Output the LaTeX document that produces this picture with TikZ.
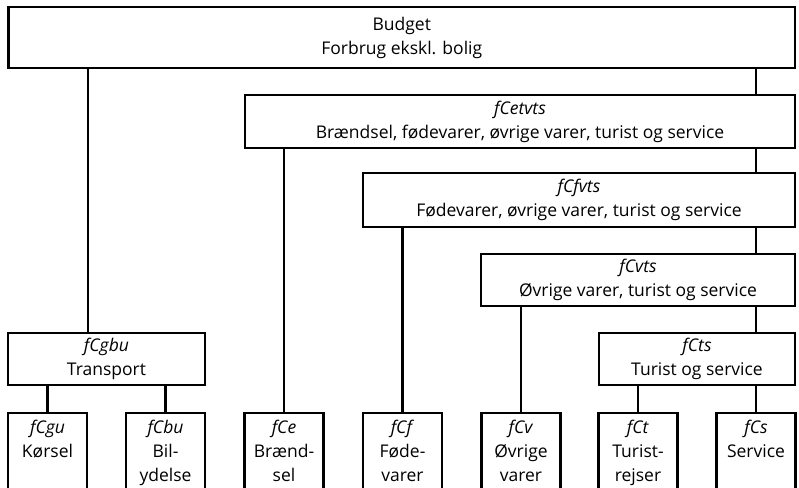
\documentclass[tikz,border=0pt]{standalone}
\usepackage{fontspec}
\setmainfont{Open Sans}
\begin{document}
\begin{tikzpicture}[x=1pt, y=-1pt, line width=2.4pt,
	box/.style={draw, inner sep=0pt, align=center, font=\fontsize{17.5}{24}\selectfont},
	leaf/.style={box, anchor=north, text width=79pt, text height=20pt, text depth=100pt}]
	\useasboundingbox (0,0) rectangle (799,487);
	\node[box, minimum width=786.5pt, minimum height=61pt] (B) at (401.75,37.5) {Budget\\Forbrug ekskl. bolig};
	\node[box, minimum width=550pt, minimum height=53pt] (ETVTS) at (520,121.5) {\textit{fCetvts}\\Brændsel, fødevarer, øvrige varer, turist og service};
	\node[box, minimum width=432pt, minimum height=54pt] (FVTS) at (579,200) {\textit{fCfvts}\\Fødevarer, øvrige varer, turist og service};
	\node[box, minimum width=314pt, minimum height=52pt] (VTS) at (638,280) {\textit{fCvts}\\Øvrige varer, turist og service};
	\node[box, minimum width=196pt, minimum height=52pt] (TS) at (697,359) {\textit{fCts}\\Turist og service};
	\node[box, minimum width=197pt, minimum height=52pt] (GBU) at (106.5,359) {\textit{fCgbu}\\Transport};
	\node[leaf] (GU) at (47.5,412) {\textit{fCgu}\\Kørsel};
	\node[leaf] (BU) at (165.5,412) {\textit{fCbu}\\Bil-\\ydelse};
	\node[leaf] (E) at (284,412) {\textit{fCe}\\Brænd-\\sel};
	\node[leaf] (F) at (402.5,412) {\textit{fCf}\\Føde-\\varer};
	\node[leaf] (V) at (521,412) {\textit{fCv}\\Øvrige\\varer};
	\node[leaf] (T) at (638,412) {\textit{fCt}\\Turist-\\rejser};
	\node[leaf] (S) at (756,412) {\textit{fCs}\\Service};
	\draw (B.south -| GU.east) -- (GBU.north -| GU.east);
	\draw (B.south -| S) -- (ETVTS.north -| S);
	\draw (ETVTS.south -| E) -- (E.north);
	\draw (ETVTS.south -| S) -- (FVTS.north -| S);
	\draw (FVTS.south -| F) -- (F.north);
	\draw (FVTS.south -| S) -- (VTS.north -| S);
	\draw (VTS.south -| V) -- (V.north);
	\draw (VTS.south -| S) -- (TS.north -| S);
	\draw (TS.south -| T) -- (T.north);
	\draw (TS.south -| S) -- (S.north);
	\draw (GBU.south -| GU) -- (GU.north);
	\draw (GBU.south -| BU) -- (BU.north);
\end{tikzpicture}
\end{document}
